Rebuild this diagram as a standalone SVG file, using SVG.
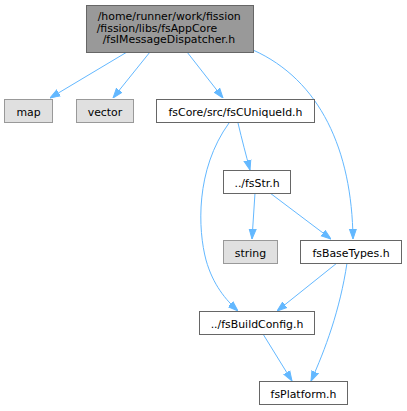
<svg xmlns="http://www.w3.org/2000/svg" width="407" height="411" viewBox="0 0 407 411">
<style>
text{font-family:"DejaVu Sans",sans-serif;font-size:10.9px;fill:#000}
.c{text-anchor:middle}
.root{fill:#999999;stroke:#666666}
.sys{fill:#e0e0e0;stroke:#999999}
.loc{fill:#ffffff;stroke:#666666}
.e{fill:none;stroke:#63b8ff;stroke-width:1}
</style>
<defs>
<marker id="ah" viewBox="0 0 10 10" refX="10" refY="5" markerWidth="10" markerHeight="10" markerUnits="userSpaceOnUse" orient="auto">
<path d="M0,1.5 L10,5 L0,8.5 Z" fill="#63b8ff" stroke="#63b8ff" stroke-width="1"/>
</marker>
</defs>
<rect width="407" height="411" fill="#ffffff"/>
<g id="edges">
<path class="e" marker-end="url(#ah)" d="M127,52 L50,98"/>
<path class="e" marker-end="url(#ah)" d="M150,52 L113,98"/>
<path class="e" marker-end="url(#ah)" d="M187,52 L223,98"/>
<path class="e" marker-end="url(#ah)" d="M253,50 C320,80 352,150 353,239"/>
<path class="e" marker-end="url(#ah)" d="M238,123 C242,140 246,155 250,170"/>
<path class="e" marker-end="url(#ah)" d="M229,123 C195,170 198,230 206,260 C213,285 226,300 238,311"/>
<path class="e" marker-end="url(#ah)" d="M255,193 L252,239"/>
<path class="e" marker-end="url(#ah)" d="M270,193 L331,239"/>
<path class="e" marker-end="url(#ah)" d="M337,263 L277,311"/>
<path class="e" marker-end="url(#ah)" d="M347,263 C340,310 325,350 311,381"/>
<path class="e" marker-end="url(#ah)" d="M263,334 L292,381"/>
</g>
<g id="root">
<rect class="root" x="86.5" y="5.5" width="167" height="47"/>
<text x="97.7" y="20">/home/runner/work/fission</text>
<text x="96.7" y="31.5">/fission/libs/fsAppCore</text>
<text x="102.7" y="43">/fsIMessageDispatcher.h</text>
</g>
<g id="map">
<rect class="sys" x="4.5" y="99.5" width="48" height="23"/>
<text class="c" x="28.5" y="115.5">map</text>
</g>
<g id="vector">
<rect class="sys" x="76.5" y="99.5" width="57" height="23"/>
<text class="c" x="105" y="115.5">vector</text>
</g>
<g id="fsCUniqueId">
<rect class="loc" x="156.5" y="99.5" width="158" height="23"/>
<text class="c" x="235.5" y="115.5">fsCore/src/fsCUniqueId.h</text>
</g>
<g id="fsStr">
<rect class="loc" x="223.5" y="170.5" width="67" height="23"/>
<text class="c" x="257" y="186.5">../fsStr.h</text>
</g>
<g id="string">
<rect class="sys" x="223.5" y="240.5" width="54" height="23"/>
<text class="c" x="250.5" y="256.5">string</text>
</g>
<g id="fsBaseTypes">
<rect class="loc" x="300.5" y="240.5" width="101" height="23"/>
<text class="c" x="351" y="256.5">fsBaseTypes.h</text>
</g>
<g id="fsBuildConfig">
<rect class="loc" x="199.5" y="311.5" width="115" height="23"/>
<text class="c" x="257" y="327.5">../fsBuildConfig.h</text>
</g>
<g id="fsPlatform">
<rect class="loc" x="259.5" y="381.5" width="88" height="23"/>
<text class="c" x="303.5" y="397.5">fsPlatform.h</text>
</g>
</svg>
